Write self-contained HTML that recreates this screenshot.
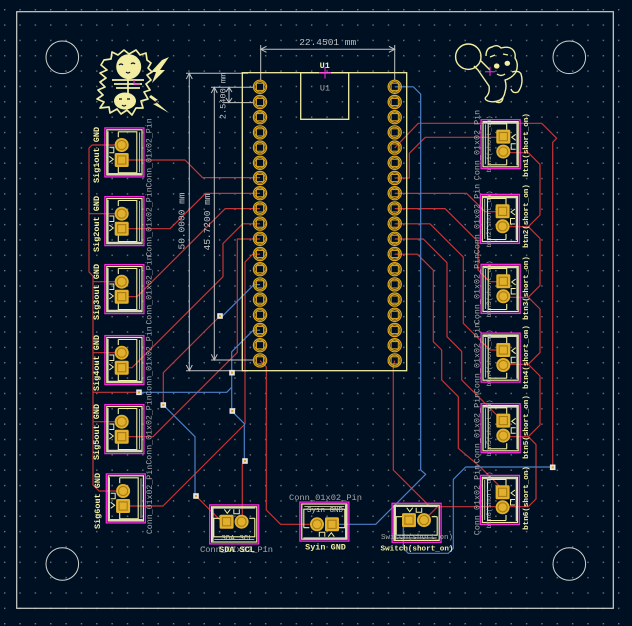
<!DOCTYPE html>
<html><head><meta charset="utf-8"><style>
html,body{margin:0;padding:0;background:#001023;width:632px;height:626px;overflow:hidden}
svg{display:block}
.dim{font-family:"Liberation Mono",monospace;fill:#c2c2c2}
.silk{font-family:"Liberation Mono",monospace;fill:#f2eda1;font-weight:bold}
.fab{font-family:"Liberation Mono",monospace;fill:#a9a9a9}
</style></head><body>
<svg width="632" height="626" viewBox="0 0 632 626" xmlns="http://www.w3.org/2000/svg">
<defs>
<pattern id="grid" x="4" y="9" width="15.35" height="15.35" patternUnits="userSpaceOnUse"><rect x="0" y="0" width="1.4" height="1.4" fill="#6f757c"/></pattern>
<g id="pin">
 <circle r="6.6" fill="none" stroke="#e0a81e" stroke-width="1.2"/>
 <circle r="5.2" fill="none" stroke="#e0a81e" stroke-width="0.9"/>
 <rect x="-3.6" y="-3.6" width="7.2" height="7.2" fill="none" stroke="#e0a81e" stroke-width="1"/>
</g>
<g id="lc">
 <rect x="0.6" y="0.6" width="39" height="49" fill="none" stroke="#ff26e2" stroke-width="1.3"/>
 <rect x="2.5" y="2.5" width="35.2" height="45.2" fill="none" stroke="#f2eda1" stroke-width="1.2"/>
 <path d="M3.5,4 V46.5 H37" fill="none" stroke="#d8d6c0" stroke-width="1.6"/>
 <path d="M14,4.5 V10 M14,4.5 H32.5 V45.5 H14 V39.5" fill="none" stroke="#f2eda1" stroke-width="1.1"/>
 <path d="M35.3,5 V45" fill="none" stroke="#cfcfb6" stroke-width="0.9"/>
 <path d="M5,20 h4.5 v5.5 h-4.5 M5,29 l4,3 l-4,3" fill="none" stroke="#f2eda1" stroke-width="1"/>
 <circle cx="17.4" cy="17.7" r="7" fill="#e1b02d"/>
 <circle cx="17.4" cy="17.7" r="4.6" fill="none" stroke="#a87a10" stroke-width="1.1"/>
 <rect x="10.4" y="25.7" width="14" height="14" rx="1.6" fill="#e1b02d"/>
 <rect x="13.3" y="28.6" width="8.2" height="8.2" fill="none" stroke="#a87a10" stroke-width="1.1"/>
</g>
<g id="via"><rect x="-2.8" y="-2.8" width="5.6" height="5.6" fill="#e6e6e6"/><rect x="-1.1" y="-1.1" width="2.2" height="2.2" fill="#e3a020"/></g>
</defs>

<rect width="632" height="626" fill="#001023"/>
<rect width="632" height="626" fill="url(#grid)"/>

<!-- board outline and mounting holes -->
<rect x="16.7" y="11.7" width="596.6" height="596.6" fill="none" stroke="#d0d2cd" stroke-width="1.2"/>
<g fill="none" stroke="#d0d2cd" stroke-width="1">
 <circle cx="62.3" cy="57.3" r="16.3"/><circle cx="569.3" cy="57.3" r="16.3"/>
 <circle cx="62.3" cy="564" r="16.3"/><circle cx="569.3" cy="564" r="16.3"/>
</g>

<!-- red traces (F.Cu) -->
<g fill="none" stroke="#c83434" stroke-width="1.2" stroke-linejoin="round">
 <path d="M121.7,160 H185 L202.5,177.6 H260"/>
 <path d="M121.7,228.7 H170 L205.5,193.4 H260"/>
 <path d="M121.7,296.7 H137 L225.3,208.6 H260"/>
 <path d="M121.7,367.7 H132 L223,276.7 V243.5 L242.7,223.8 H260"/>
 <path d="M121.7,436.7 H153 L237.3,352.4 V239 H260"/>
 <path d="M123,506 H163 L245,424 V262 L252.8,254.2 H260"/>
 <path d="M220,316 L163.3,372.7 V405"/>
 <path d="M196,496 L221.7,521.7 H227"/>
 <path d="M245,461 L242.3,464 V521.7"/>
 <path d="M260,360.6 L266.3,366.9 V510 L280.6,524.3 H318"/>
 <path d="M121.7,145 H92 L89,148 V272 L93,276 V485 L99,491 H121.7"/>
 <path d="M89,213.7 H121.7 M93,281.7 H121.7 M93,352.7 H121.7 M93,421.7 H121.7 M93,392.3 H139"/>
 <path d="M394.7,147.8 L418.3,123.3 H541.7 L556.7,138.3 L552.7,142.3 V467"/>
 <path d="M394.7,178 H409.3 V153.3 L425.3,137.3 H504.3"/>
 <path d="M394.7,193.4 H466.7 L485,211.7 H504.3"/>
 <path d="M394.7,208.6 H445 L478,241.6 V270 L489.7,281.7 H504.3"/>
 <path d="M394.7,223.8 H430 L463.3,257.1 V323.3 L490,350 H504.3"/>
 <path d="M394.7,239 H423.3 L447,262.7 V336.7 L461.7,351.4 V380 L496.7,415 L503,421.7"/>
 <path d="M394.7,254.2 H417.3 L433.3,270.2 V341.7 L441.7,350 V380 L458.3,396.7 V448.3 L480,466.7 L503.3,490"/>
 <path d="M394.7,360.6 L393.3,366 V470 L430,506.7 H528.3"/>
 <path d="M425,519.3 L437.6,506.7"/>
 <path d="M504.3,152.7 H528.3 L540,164.4 V215 L528.3,226.7 L540,238.4 V285.6 L528.3,297.3 L540,309 V352.6 L528.3,364.3 L540,376 V425 L528.3,436.7 L536,444.4 V499 L528.3,506.7"/>
 <path d="M503.3,226.7 H528.3 M503.3,297.3 H528.3 M503.3,364.3 H528.3 M503.3,436.7 H528.3"/>
</g>

<!-- blue traces (B.Cu) -->
<g fill="none" stroke="#4d7fc4" stroke-width="1.2" stroke-linejoin="round">
 <path d="M394.7,86.8 H413.3 L420.7,94.2 V470 L425.7,474.3 L375.7,524.3 H332.7"/>
 <path d="M552.7,467 H465.7 L453.3,479.4 V548.3 L448.3,553.3 H408.3 L403.3,548.3 V526 L410,519.3"/>
 <path d="M260,284.6 H254 L222.4,316.2"/>
 <path d="M260,330.2 H253.3 L231.7,351.8 V411 L244.3,423.6 V461"/>
 <path d="M139,392.3 H226.7 L231.7,387.3"/>
 <path d="M163.3,405 L195,436.7 V496"/>
</g>

<!-- dimensions -->
<g fill="none" stroke="#c2c2c2" stroke-width="1">
 <path d="M260.7,45 V80 M394.7,45 V80 M260.7,49.3 H394.7"/>
 <path d="M266.5,46.3 L260.7,49.3 L266.5,52.3 M388.9,46.3 L394.7,49.3 L388.9,52.3"/>
 <path d="M186,73.3 H248 M186,370.7 H248 M189.3,73.3 V370.7"/>
 <path d="M186.3,79 L189.3,73.3 L192.3,79 M186.3,365 L189.3,370.7 L192.3,365"/>
 <path d="M211,87.3 H253 M211,360 H253 M214.3,87.3 V360"/>
 <path d="M211.3,93 L214.3,87.3 L217.3,93 M211.3,354.3 L214.3,360 L217.3,354.3"/>
 <path d="M224,102.6 H253 M229,87.3 V102.6"/>
 <path d="M226,92 L229,87.3 L232,92 M226,98 L229,102.6 L232,98"/>
</g>
<text class="dim" x="327.7" y="45" font-size="9.5" text-anchor="middle">22.4501 mm</text>
<text class="dim" font-size="9.5" text-anchor="middle" dominant-baseline="central" transform="translate(181.8,221) rotate(-90)">50.0000 mm</text>
<text class="dim" font-size="9.5" text-anchor="middle" dominant-baseline="central" transform="translate(207.3,222) rotate(-90)">45.7200 mm</text>
<text class="dim" font-size="8.6" text-anchor="middle" dominant-baseline="central" transform="translate(223.3,96) rotate(-90)">2.5400 mm</text>

<!-- U1 -->
<rect x="242.3" y="72.7" width="164.4" height="298" fill="none" stroke="#f2eda1" stroke-width="1.3"/>
<rect x="300.7" y="72.7" width="48" height="46.6" fill="none" stroke="#f2eda1" stroke-width="1.3"/>
<text class="silk" x="324.7" y="68" font-size="8.5" text-anchor="middle">U1</text>
<text class="fab" x="325" y="90.5" font-size="8.5" text-anchor="middle">U1</text>
<path d="M319,72.7 H331 M325,66.7 V78.5" stroke="#ff26e2" stroke-width="1"/>

<g>
 <use href="#pin" x="260" y="86.8"/><use href="#pin" x="260" y="102"/><use href="#pin" x="260" y="117.2"/><use href="#pin" x="260" y="132.4"/><use href="#pin" x="260" y="147.6"/><use href="#pin" x="260" y="162.8"/><use href="#pin" x="260" y="178"/><use href="#pin" x="260" y="193.2"/><use href="#pin" x="260" y="208.4"/><use href="#pin" x="260" y="223.6"/><use href="#pin" x="260" y="238.8"/><use href="#pin" x="260" y="254"/><use href="#pin" x="260" y="269.2"/><use href="#pin" x="260" y="284.4"/><use href="#pin" x="260" y="299.6"/><use href="#pin" x="260" y="314.8"/><use href="#pin" x="260" y="330"/><use href="#pin" x="260" y="345.2"/><use href="#pin" x="260" y="360.4"/>
 <use href="#pin" x="394.7" y="86.8"/><use href="#pin" x="394.7" y="102"/><use href="#pin" x="394.7" y="117.2"/><use href="#pin" x="394.7" y="132.4"/><use href="#pin" x="394.7" y="147.6"/><use href="#pin" x="394.7" y="162.8"/><use href="#pin" x="394.7" y="178"/><use href="#pin" x="394.7" y="193.2"/><use href="#pin" x="394.7" y="208.4"/><use href="#pin" x="394.7" y="223.6"/><use href="#pin" x="394.7" y="238.8"/><use href="#pin" x="394.7" y="254"/><use href="#pin" x="394.7" y="269.2"/><use href="#pin" x="394.7" y="284.4"/><use href="#pin" x="394.7" y="299.6"/><use href="#pin" x="394.7" y="314.8"/><use href="#pin" x="394.7" y="330"/><use href="#pin" x="394.7" y="345.2"/><use href="#pin" x="394.7" y="360.4"/>
</g>

<!-- left connectors -->
<use href="#lc" transform="translate(104.3,127.3)"/>
<use href="#lc" transform="translate(104.3,196)"/>
<use href="#lc" transform="translate(104.3,264)"/>
<use href="#lc" transform="translate(104.3,335)"/>
<use href="#lc" transform="translate(104.3,404)"/>
<use href="#lc" transform="translate(105.7,473.3)"/>

<g class="silk" font-size="8.5" text-anchor="middle" dominant-baseline="central">
 <text transform="translate(97,155) rotate(-90)">Sig1out GND</text>
 <text transform="translate(97,224) rotate(-90)">Sig2out GND</text>
 <text transform="translate(97,292) rotate(-90)">Sig3out GND</text>
 <text transform="translate(97,363) rotate(-90)">Sig4out GND</text>
 <text transform="translate(97,432) rotate(-90)">Sig5out GND</text>
 <text transform="translate(98,501) rotate(-90)">Sig6out GND</text>
</g>
<g class="fab" font-size="8.25" text-anchor="middle" dominant-baseline="central">
 <text transform="translate(150,153) rotate(-90)">Conn_01x02_Pin</text>
 <text transform="translate(150,222) rotate(-90)">Conn_01x02_Pin</text>
 <text transform="translate(150,290) rotate(-90)">Conn_01x02_Pin</text>
 <text transform="translate(150,361) rotate(-90)">Conn_01x02_Pin</text>
 <text transform="translate(150,430) rotate(-90)">Conn_01x02_Pin</text>
 <text transform="translate(150.5,499.5) rotate(-90)">Conn_01x02_Pin</text>
</g>

<!-- right connectors -->
<use href="#lc" transform="translate(520.7,169.3) rotate(180)"/>
<use href="#lc" transform="translate(520,244) rotate(180)"/>
<use href="#lc" transform="translate(520.7,314) rotate(180)"/>
<use href="#lc" transform="translate(520.7,382.7) rotate(180)"/>
<use href="#lc" transform="translate(520.7,453.3) rotate(180)"/>
<use href="#lc" transform="translate(520,525) rotate(180)"/>

<g class="fab" font-size="6.8" text-anchor="middle" dominant-baseline="central">
 <text transform="translate(490,144) rotate(-90)">btn1(short_on)</text>
 <text transform="translate(490,219) rotate(-90)">btn2(short_on)</text>
 <text transform="translate(490,289) rotate(-90)">btn3(short_on)</text>
 <text transform="translate(490,358) rotate(-90)">btn4(short_on)</text>
 <text transform="translate(490,428) rotate(-90)">btn5(short_on)</text>
 <text transform="translate(490,500) rotate(-90)">btn6(short_on)</text>
</g>
<g class="fab" font-size="8.4" text-anchor="middle" dominant-baseline="central">
 <text transform="translate(477.5,145) rotate(-90)">Conn_01x02_Pin</text>
 <text transform="translate(477.5,219) rotate(-90)">Conn_01x02_Pin</text>
 <text transform="translate(477.5,289) rotate(-90)">Conn_01x02_Pin</text>
 <text transform="translate(477.5,358) rotate(-90)">Conn_01x02_Pin</text>
 <text transform="translate(477.5,428) rotate(-90)">Conn_01x02_Pin</text>
 <text transform="translate(477.5,500) rotate(-90)">Conn_01x02_Pin</text>
</g>
<g class="silk" font-size="7.6" text-anchor="middle" dominant-baseline="central">
 <text transform="translate(527,145) rotate(-90)">btn1(short_on)</text>
 <text transform="translate(527,216) rotate(-90)">btn2(short_on)</text>
 <text transform="translate(527,288) rotate(-90)">btn3(short_on)</text>
 <text transform="translate(527,357) rotate(-90)">btn4(short_on)</text>
 <text transform="translate(527,427) rotate(-90)">btn5(short_on)</text>
 <text transform="translate(527,498) rotate(-90)">btn6(short_on)</text>
</g>

<!-- bottom connectors -->
<use href="#lc" transform="translate(259.3,504.3) rotate(90)"/>
<use href="#lc" transform="translate(299.3,541.7) rotate(-90)"/>
<use href="#lc" transform="translate(441.7,502.7) rotate(90)"/>

<text x="237" y="540" font-size="7.5" text-anchor="middle" font-family="Liberation Mono, monospace" fill="#cfcca6">SDA SCL</text>
<text class="fab" x="236.5" y="552" font-size="8.7" text-anchor="middle">Conn_01x02_Pin</text>
<text class="silk" x="237" y="552" font-size="8.5" text-anchor="middle">SDA SCL</text>

<text class="fab" x="325.5" y="500" font-size="8.7" text-anchor="middle">Conn_01x02_Pin</text>
<text x="325" y="512" font-size="7.5" text-anchor="middle" font-family="Liberation Mono, monospace" fill="#cfcca6">Syin GND</text>
<text class="silk" x="325.5" y="549.3" font-size="8.5" text-anchor="middle">Syin GND</text>

<text class="fab" x="417" y="539" font-size="7.5" text-anchor="middle">Switch(short_on)</text>
<text class="silk" x="417" y="550.5" font-size="7.6" text-anchor="middle">Switch(short_on)</text>

<!-- vias -->
<use href="#via" x="220" y="316"/>
<use href="#via" x="232" y="372.7"/>
<use href="#via" x="139" y="392.3"/>
<use href="#via" x="163.3" y="405"/>
<use href="#via" x="232.3" y="411"/>
<use href="#via" x="245" y="461"/>
<use href="#via" x="196" y="496"/>
<use href="#via" x="552.7" y="467.3"/>

<!-- left mascot -->
<g fill="none" stroke="#f2eda1" stroke-width="1.7" stroke-linejoin="round">
 <polygon points="104,60 111,59 112,52 118,55 124,50 129,54 136,50 140,55 146,53 147,60 151,63 148,68 152,72 147,75 151,80 146,84 150,90 144,92 148,99 141,101 143,108 136,108 132,115 127,110 121,114 117,109 110,113 109,107 100,108 104,102 97,99 103,95 98,90 105,87 100,82 106,78 100,73 107,70 101,65"/>
 <path d="M112,80 H144 M114,84 H142 M116,88 H140 M128,78 V93"/>
</g>
<g fill="#f2eda1">
 <circle cx="128.7" cy="66.7" r="12.5"/>
 <ellipse cx="125" cy="101" rx="11" ry="8.5"/>
 <polygon points="162,60 169,57 160,70 165,70 152,83 156,72 151,72"/>
 <polygon points="151,95 158,100 155,101 169,113 153,104 157,103 149,97"/>
</g>
<g fill="none" stroke="#001023" stroke-width="1.2">
 <path d="M119,65 q2,-2 4,0 M131,64 q2,-2 4,0 M126,72 q2,2 4,0"/>
 <path d="M119,99 h3 M127,99 h3 M122,105 q2,2 4,0"/>
</g>
<path d="M134,84 H140 M134,80 V84" stroke="#ff26e2" stroke-width="1"/>

<!-- right mascot -->
<g fill="none" stroke="#f2eda1" stroke-width="1.4" stroke-linejoin="round">
 <circle cx="468.3" cy="56.7" r="12.7"/>
 <path d="M486,56 Q486,48 492,47 Q497,44 501,48 Q508,46 512,49 Q516,52 515,58 Q519,64 516,72 Q512,78 505,80 Q507,86 505,92 Q504,98 500,100 Q494,103 488,101 Q483,99 487,96 Q490,92 489,86 L478,70 L474,66"/>
 <path d="M480,60 L490,70"/>
 <path d="M512,72 Q519,70 521,74 Q524,84 518,92 Q513,94 511,89"/>
 <path d="M490,57 l5,-2 M503,54 l5,1 M497,74 q4,3 8,0"/>
 <path d="M496,102 Q502,104 503,98"/>
</g>
<g fill="#f2eda1"><ellipse cx="496.7" cy="66" rx="2.8" ry="2.6"/><ellipse cx="507.3" cy="63.3" rx="2.8" ry="2.6"/></g>
<path d="M485,71.7 H495 M490,66.7 V76" stroke="#ff26e2" stroke-width="1"/>
</svg>
</body></html>
